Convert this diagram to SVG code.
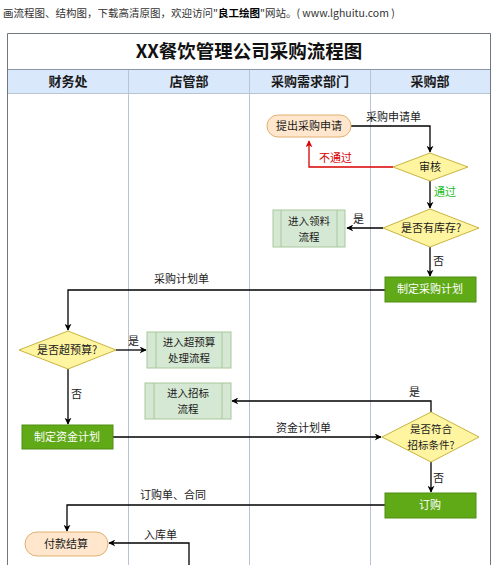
<svg xmlns="http://www.w3.org/2000/svg" width="500" height="565" viewBox="0 0 500 565">
<defs>
<marker id="ah" viewBox="0 0 10 10" refX="9" refY="5" markerWidth="7" markerHeight="7" orient="auto" markerUnits="userSpaceOnUse">
<path d="M0,0 L10,5 L0,10 L3,5 z" fill="#000"/>
</marker>
<marker id="ahr" viewBox="0 0 10 10" refX="9" refY="5" markerWidth="7" markerHeight="7" orient="auto" markerUnits="userSpaceOnUse">
<path d="M0,0 L10,5 L0,10 L3,5 z" fill="#d90000"/>
</marker>
</defs>
<style>
text{font-family:"Noto Sans CJK SC","Liberation Sans",sans-serif;}
.t{font-size:11px;fill:#1a1a1a;text-anchor:middle;}
.t2{font-size:10.5px;fill:#1a1a1a;text-anchor:middle;}
.lbl{font-size:11px;fill:#1a1a1a;}
.w{font-size:11px;fill:#ffffff;text-anchor:middle;}
.hd{font-size:13px;font-weight:bold;fill:#1a1a1a;text-anchor:middle;}
.pill{fill:#ffe6cc;stroke:#e0b070;stroke-width:1;}
.dia{fill:#fff5a0;stroke:#c8b440;stroke-width:1;}
.proc{fill:#d5e8d4;stroke:#a8c89a;stroke-width:1;}
.inner{stroke:#a8c89a;stroke-width:1;fill:none;}
.act{fill:#60a917;stroke:#4f8f12;stroke-width:1;}
.ln{fill:none;stroke:#000;stroke-width:1.3;}
.lane{stroke:#b8c4d4;stroke-width:1;}
</style>
<rect x="0" y="0" width="500" height="565" fill="#ffffff"/>
<text x="3" y="17" style="font-size:10.5px;fill:#333;">画流程图、结构图，下载高清原图，欢迎访问"<tspan font-weight="bold" fill="#000">良工绘图</tspan>"网站。( www.lghuitu.com )</text>

<g id="frame">
<rect x="7" y="69" width="484" height="24" fill="#dae8fc"/>
<line class="lane" x1="128.5" y1="69" x2="128.5" y2="565"/>
<line class="lane" x1="249.5" y1="69" x2="249.5" y2="565"/>
<line class="lane" x1="370.5" y1="69" x2="370.5" y2="565"/>
<line x1="7" y1="69.5" x2="491" y2="69.5" stroke="#8a96a6" stroke-width="1"/>
<line x1="7" y1="93.5" x2="491" y2="93.5" stroke="#b8c4d4" stroke-width="1"/>
<path d="M7.5,565 V33.5 H490.5 V565" fill="none" stroke="#6f7780" stroke-width="1"/>
<text x="249" y="58" style="font-size:18.5px;font-weight:bold;fill:#111;text-anchor:middle;">XX餐饮管理公司采购流程图</text>
<text class="hd" x="68" y="86">财务处</text>
<text class="hd" x="189" y="86">店管部</text>
<text class="hd" x="310" y="86">采购需求部门</text>
<text class="hd" x="430" y="86">采购部</text>
</g>

<g id="connectors">
<path class="ln" d="M351,126 H430 V152" marker-end="url(#ah)"/>
<text class="lbl" x="366" y="121">采购申请单</text>
<path d="M393,167 H309 V141" fill="none" stroke="#d90000" stroke-width="1.3" marker-end="url(#ahr)"/>
<text x="319" y="162" style="font-size:11px;fill:#d90000;">不通过</text>
<path class="ln" d="M430,181 V208" marker-end="url(#ah)"/>
<text x="434" y="196" style="font-size:11px;fill:#22bb22;">通过</text>
<path class="ln" d="M383,228 H347" marker-end="url(#ah)"/>
<text class="lbl" x="353" y="223">是</text>
<path class="ln" d="M430,247 V276" marker-end="url(#ah)"/>
<text class="lbl" x="433" y="265">否</text>
<path class="ln" d="M385,290 H68 V330" marker-end="url(#ah)"/>
<text class="lbl" x="154" y="283">采购计划单</text>
<path class="ln" d="M116,350 H146" marker-end="url(#ah)"/>
<text class="lbl" x="128" y="345">是</text>
<path class="ln" d="M68,369 V424" marker-end="url(#ah)"/>
<text class="lbl" x="71" y="398">否</text>
<path class="ln" d="M113,437 H381" marker-end="url(#ah)"/>
<text class="lbl" x="276" y="432">资金计划单</text>
<path class="ln" d="M431,412 V401 H232" marker-end="url(#ah)"/>
<text class="lbl" x="409" y="396">是</text>
<path class="ln" d="M431,462 V492" marker-end="url(#ah)"/>
<text class="lbl" x="433" y="482">否</text>
<path class="ln" d="M385,505 H67 V531" marker-end="url(#ah)"/>
<text class="lbl" x="140" y="499">订购单、合同</text>
<path class="ln" d="M189,565 V543 H109" marker-end="url(#ah)"/>
<text class="lbl" x="144" y="539">入库单</text>
</g>

<g id="n-apply">
<rect class="pill" x="267" y="115" width="84" height="22" rx="11"/>
<text class="t" x="309" y="130">提出采购申请</text>
</g>
<g id="n-review">
<polygon class="dia" points="430,153 468,167 430,181 393,167"/>
<text class="t" x="430" y="171">审核</text>
</g>
<g id="n-stock">
<polygon class="dia" points="430,209 479,228 430,247 383,228"/>
<text class="t" x="431" y="232">是否有库存?</text>
</g>
<g id="n-pick">
<rect class="proc" x="273" y="210" width="72" height="37"/>
<line class="inner" x1="281" y1="210" x2="281" y2="247"/>
<line class="inner" x1="337" y1="210" x2="337" y2="247"/>
<text class="t2" x="309" y="225">进入领料</text>
<text class="t2" x="309" y="240.5">流程</text>
</g>
<g id="n-plan">
<rect class="act" x="385" y="277" width="91" height="25"/>
<text class="w" x="430" y="293">制定采购计划</text>
</g>
<g id="n-budget">
<polygon class="dia" points="68,331 116,350 68,369 19,350"/>
<text class="t" x="67" y="354">是否超预算?</text>
</g>
<g id="n-over">
<rect class="proc" x="147" y="332" width="84" height="36"/>
<line class="inner" x1="156" y1="332" x2="156" y2="368"/>
<line class="inner" x1="222" y1="332" x2="222" y2="368"/>
<text class="t2" x="189" y="346">进入超预算</text>
<text class="t2" x="189" y="361.5">处理流程</text>
</g>
<g id="n-bid">
<rect class="proc" x="145" y="383" width="86" height="36"/>
<line class="inner" x1="154" y1="383" x2="154" y2="419"/>
<line class="inner" x1="222" y1="383" x2="222" y2="419"/>
<text class="t2" x="188" y="397">进入招标</text>
<text class="t2" x="188" y="412.5">流程</text>
</g>
<g id="n-fund">
<rect class="act" x="22" y="425" width="91" height="24"/>
<text class="w" x="67" y="441">制定资金计划</text>
</g>
<g id="n-bidok">
<polygon class="dia" points="431,412 479,437 431,462 382,437"/>
<text class="t2" x="431" y="433">是否符合</text>
<text class="t2" x="431" y="448.5">招标条件?</text>
</g>
<g id="n-order">
<rect class="act" x="385" y="493" width="91" height="25"/>
<text class="w" x="430" y="509">订购</text>
</g>
<g id="n-pay">
<rect class="pill" x="25" y="532" width="83" height="24" rx="12"/>
<text class="t" x="66" y="548">付款结算</text>
</g>
</svg>
